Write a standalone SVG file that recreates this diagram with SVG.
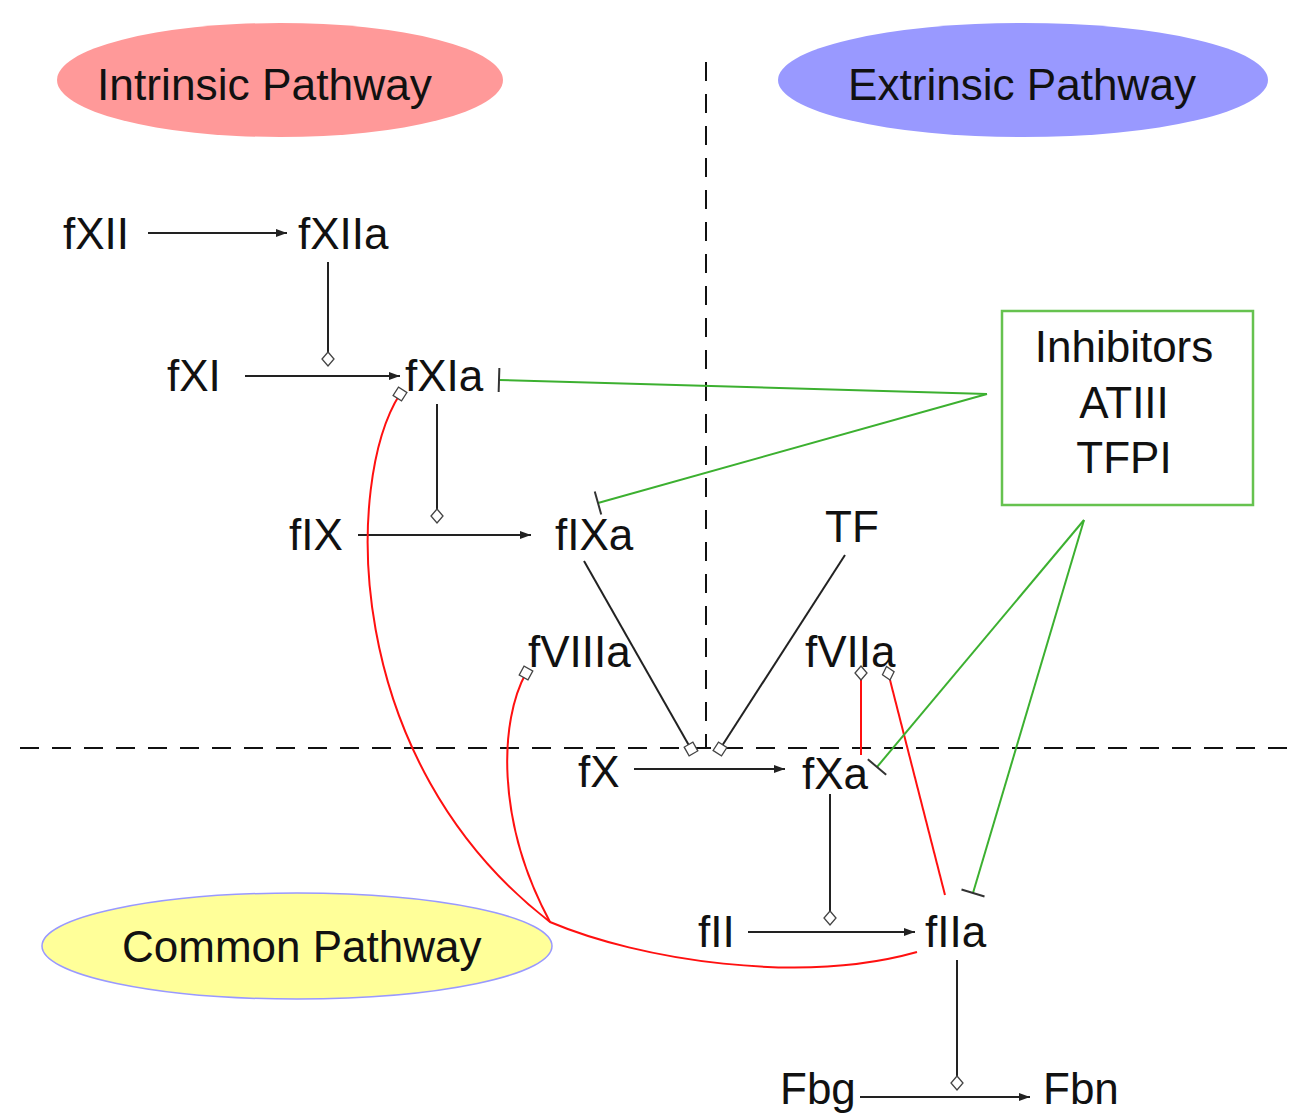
<svg xmlns="http://www.w3.org/2000/svg" width="1294" height="1115" viewBox="0 0 1294 1115">
<style>
text{font-family:"Liberation Sans",Arial,sans-serif;font-size:44px;fill:#111}
.act{fill:none;stroke:#222;stroke-width:2}
.red{fill:none;stroke:#ff1010;stroke-width:2}
.grn{fill:none;stroke:#3cb030;stroke-width:2}
.dash{fill:none;stroke:#111;stroke-width:2;stroke-dasharray:19 13}
.mk{fill:#fff;stroke:#444;stroke-width:1.3}
</style>
<defs>
<marker id="arrow" markerUnits="userSpaceOnUse" markerWidth="11" markerHeight="8" refX="11" refY="4" orient="auto"><path d="M0,0 L11,4 L0,8 z" fill="#222"/></marker>
<marker id="diamond" markerUnits="userSpaceOnUse" markerWidth="16" markerHeight="14" refX="1" refY="7" orient="auto"><path class="mk" d="M1,7 L8,1 L15,7 L8,13 z"/></marker>
<marker id="square" markerUnits="userSpaceOnUse" markerWidth="14" markerHeight="14" refX="7" refY="7" orient="auto"><path class="mk" d="M2,2 H12 V12 H2 z"/></marker>
<marker id="bar" markerUnits="userSpaceOnUse" markerWidth="4" markerHeight="26" refX="2" refY="13" orient="auto"><path d="M2,1 V25" stroke="#333" stroke-width="2"/></marker>
</defs>
<rect width="1294" height="1115" fill="#fff"/>

<g id="intrinsic-pathway">
<ellipse cx="280" cy="80" rx="223" ry="57" fill="#ff9999"/>
<text x="97" y="100" textLength="335" lengthAdjust="spacingAndGlyphs">Intrinsic Pathway</text>
</g>
<g id="extrinsic-pathway">
<ellipse cx="1023" cy="80" rx="245" ry="57" fill="#9999ff"/>
<text x="848" y="100" textLength="348" lengthAdjust="spacingAndGlyphs">Extrinsic Pathway</text>
</g>
<g id="common-pathway">
<ellipse cx="297" cy="946" rx="255" ry="53" fill="#ffff99" stroke="#9999ff" stroke-width="1.5"/>
<text x="122" y="962">Common Pathway</text>
</g>

<g id="dividers">
<line class="dash" x1="706" y1="62" x2="706" y2="748"/>
<line class="dash" x1="20" y1="748" x2="1294" y2="748"/>
</g>

<g id="connectors">
<line class="act" x1="148" y1="233" x2="287" y2="233" marker-end="url(#arrow)"/>
<line class="act" x1="328" y1="262" x2="328" y2="352" marker-end="url(#diamond)"/>
<line class="act" x1="245" y1="376" x2="400" y2="376" marker-end="url(#arrow)"/>
<line class="act" x1="437" y1="404" x2="437" y2="509" marker-end="url(#diamond)"/>
<line class="act" x1="358" y1="535" x2="531" y2="535" marker-end="url(#arrow)"/>
<line class="act" x1="584" y1="561" x2="691" y2="749" marker-end="url(#square)"/>
<line class="act" x1="845" y1="555" x2="720" y2="749" marker-end="url(#square)"/>
<line class="act" x1="634" y1="769" x2="785" y2="769" marker-end="url(#arrow)"/>
<line class="act" x1="830" y1="794" x2="830" y2="911" marker-end="url(#diamond)"/>
<line class="act" x1="748" y1="932" x2="915" y2="932" marker-end="url(#arrow)"/>
<line class="act" x1="957" y1="960" x2="957" y2="1076" marker-end="url(#diamond)"/>
<line class="act" x1="860" y1="1097" x2="1030" y2="1097" marker-end="url(#arrow)"/>

<path class="red" d="M400,394 C345,480 340,760 550,922 C640,960 800,985 917,952" marker-start="url(#square)"/>
<path class="red" d="M526,673 C500,720 495,820 550,922" marker-start="url(#square)"/>
<line class="red" x1="861" y1="755" x2="861" y2="680" marker-end="url(#diamond)"/>
<line class="red" x1="945" y1="895" x2="890" y2="680" marker-end="url(#diamond)"/>

<line class="grn" x1="987" y1="394" x2="499" y2="380" marker-end="url(#bar)"/>
<line class="grn" x1="987" y1="394" x2="598" y2="503" marker-end="url(#bar)"/>
<line class="grn" x1="1084" y1="520" x2="877" y2="767" marker-end="url(#bar)"/>
<line class="grn" x1="1084" y1="520" x2="973" y2="893" marker-end="url(#bar)"/>
</g>

<g id="fXII"><text x="63" y="249">fXII</text></g>
<g id="fXIIa"><text x="298" y="249">fXIIa</text></g>
<g id="fXI"><text x="167" y="391">fXI</text></g>
<g id="fXIa"><text x="405" y="391">fXIa</text></g>
<g id="fIX"><text x="289" y="550">fIX</text></g>
<g id="fIXa"><text x="555" y="550">fIXa</text></g>
<g id="TF"><text x="825" y="542">TF</text></g>
<g id="fVIIIa"><text x="528" y="667">fVIIIa</text></g>
<g id="fVIIa"><text x="805" y="667">fVIIa</text></g>
<g id="fX"><text x="578" y="787">fX</text></g>
<g id="fXa"><text x="802" y="789">fXa</text></g>
<g id="fII"><text x="698" y="947">fII</text></g>
<g id="fIIa"><text x="925" y="947">fIIa</text></g>
<g id="Fbg"><text x="780" y="1104">Fbg</text></g>
<g id="Fbn"><text x="1043" y="1104">Fbn</text></g>
<g id="inhibitors">
<rect x="1002" y="311" width="251" height="194" fill="none" stroke="#66c24f" stroke-width="2.5"/>
<text x="1124" y="362" text-anchor="middle">Inhibitors</text>
<text x="1124" y="418" text-anchor="middle">ATIII</text>
<text x="1124" y="473" text-anchor="middle">TFPI</text>
</g>
</svg>
